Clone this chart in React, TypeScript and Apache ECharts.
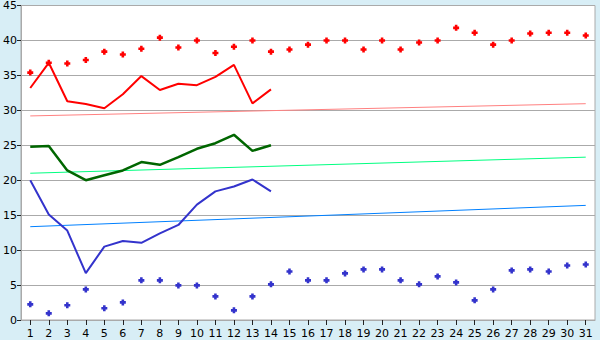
import React, { useEffect, useRef } from "react";
import * as echarts from "echarts";

const days = Array.from({ length: 31 }, (_, i) => String(i + 1));

const redDots = [35.4, 36.8, 36.7, 37.2, 38.4, 38.0, 38.8, 40.4, 39.0, 40.0, 38.2, 39.1, 40.0, 38.4, 38.7, 39.4, 40.0, 40.0, 38.7, 40.0, 38.7, 39.7, 40.0, 41.8, 41.1, 39.4, 40.0, 41.0, 41.1, 41.1, 40.7];
const redLine = [33.2, 36.8, 31.3, 30.9, 30.3, 32.3, 34.9, 32.9, 33.8, 33.6, 34.8, 36.5, 31.0, 33.0];
const greenLine = [24.8, 24.9, 21.4, 20.0, 20.7, 21.4, 22.6, 22.2, 23.3, 24.5, 25.3, 26.5, 24.2, 25.0];
const blueLine = [20.0, 15.1, 12.8, 6.7, 10.5, 11.3, 11.05, 12.4, 13.6, 16.5, 18.4, 19.1, 20.1, 18.4];
const blueDots = [2.24, 0.95, 2.1, 4.38, 1.67, 2.52, 5.67, 5.67, 4.95, 4.95, 3.38, 1.38, 3.38, 5.1, 6.95, 5.67, 5.67, 6.67, 7.24, 7.24, 5.67, 5.1, 6.24, 5.38, 2.81, 4.38, 7.1, 7.24, 6.95, 7.81, 7.95];
// trend lines: [value at day 1, value at day 31]
const redTrend = [29.2, 30.95];
const greenTrend = [21.0, 23.3];
const blueTrend = [13.35, 16.4];

const yMin = 0;
const yMax = 45;
const yStep = 5;

const plus = "path://M2,0H5V2H7V5H5V7H2V5H0V2H2Z";

function trend(ends: number[]) {
  return days.map((_, i) => (i === 0 ? ends[0] : i === days.length - 1 ? ends[1] : null));
}

export default function App() {
  const ref = useRef<HTMLDivElement>(null);
  useEffect(() => {
    const chart = echarts.init(ref.current!, null, { renderer: "svg" });
    const font = "DejaVu Sans";
    chart.setOption({
      animation: false,
      backgroundColor: "#d8eef6",
      grid: {
        left: 20.5,
        right: 5,
        top: 5,
        bottom: 20,
        show: true,
        backgroundColor: "#ffffff",
        borderColor: "#aaaaaa",
        borderWidth: 1,
      },
      xAxis: {
        type: "category",
        data: days,
        boundaryGap: true,
        axisLine: { show: true, lineStyle: { color: "#aaaaaa", width: 1 } },
        axisTick: { show: true, alignWithLabel: true, length: 5, lineStyle: { color: "#222" } },
        axisLabel: { color: "#000", fontFamily: font, fontSize: 11, margin: 8, interval: 0 },
        splitLine: { show: false },
      },
      yAxis: {
        type: "value",
        min: yMin,
        max: yMax,
        interval: yStep,
        axisLine: { show: true, lineStyle: { color: "#aaaaaa", width: 1 } },
        axisTick: { show: true, length: 4, lineStyle: { color: "#222" } },
        axisLabel: { color: "#000", fontFamily: font, fontSize: 11, margin: 4 },
        splitLine: { show: true, lineStyle: { color: "#aaaaaa", width: 1 } },
      },
      series: [
        { type: "line", data: trend(redTrend), connectNulls: true, symbol: "none", lineStyle: { color: "#ff8080", width: 1 } },
        { type: "line", data: trend(greenTrend), connectNulls: true, symbol: "none", lineStyle: { color: "#00ff80", width: 1 } },
        { type: "line", data: trend(blueTrend), connectNulls: true, symbol: "none", lineStyle: { color: "#0080ff", width: 1 } },
        { type: "line", data: redLine, symbol: "none", lineStyle: { color: "#ff0000", width: 2 } },
        { type: "line", data: greenLine, symbol: "none", lineStyle: { color: "#006600", width: 2.5 } },
        { type: "line", data: blueLine, symbol: "none", lineStyle: { color: "#3333cc", width: 2 } },
        { type: "scatter", data: redDots, symbol: plus, symbolSize: 6, itemStyle: { color: "#ff0000", opacity: 1 } },
        { type: "scatter", data: blueDots, symbol: plus, symbolSize: 6, itemStyle: { color: "#3333cc", opacity: 1 } },
      ],
    });
    return () => chart.dispose();
  }, []);
  return <div ref={ref} style={{ position: "fixed", left: 0, top: 0, width: 600, height: 340 }} />;
}
